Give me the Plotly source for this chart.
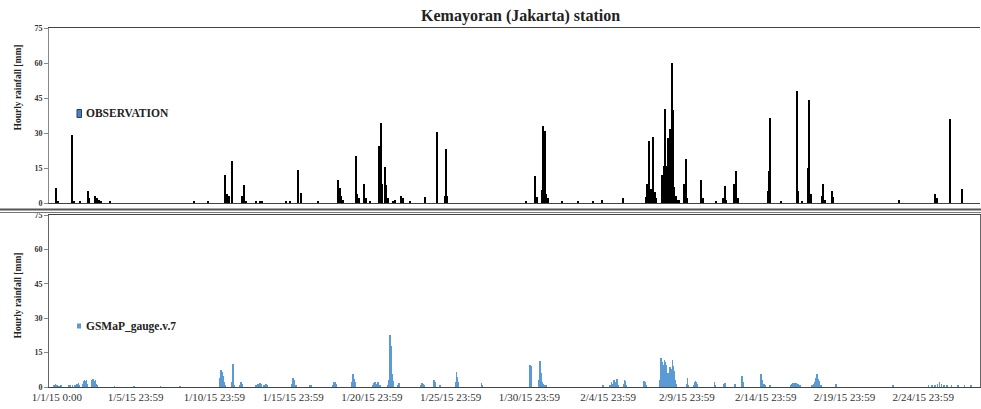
import numpy as np
import plotly.graph_objects as go

# ---------------- data ----------------
N_HOURS = 1419  # 1 Jan 2015 00:00 .. end of Feb 2015 (hourly index)

tick_hours = [12 + 120 * k for k in range(12)]
tick_labels = ["1/1/15 0:00", "1/5/15 23:59", "1/10/15 23:59", "1/15/15 23:59",
               "1/20/15 23:59", "1/25/15 23:59", "1/30/15 23:59", "2/4/15 23:59",
               "2/9/15 23:59", "2/14/15 23:59", "2/19/15 23:59", "2/24/15 23:59"]

# Observation (rain gauge) hourly rainfall [mm] - non-zero hours
obs_hours = [11, 14, 35, 38, 47, 59, 62, 71, 73, 76, 79, 93, 222, 242,
             269, 271, 272, 274, 279, 294, 298, 300, 315, 322, 325, 361, 367,
             380, 384, 410, 440, 443, 445, 448, 468, 470, 472, 480, 483, 489,
             503, 505, 506, 508, 512, 514, 517, 524, 527, 536, 539, 550, 574,
             592, 603, 605, 607, 727, 741, 744, 752, 753, 756, 758, 760, 782,
             806, 830, 843, 875, 910, 912, 915, 918, 920, 923, 926, 934, 936,
             937, 939, 941, 943, 945, 946, 948, 950, 951, 953, 955, 958, 961,
             968, 971, 973, 994, 997, 1016, 1027, 1030, 1032, 1044, 1047, 1050,
             1096, 1097, 1099, 1115, 1140, 1142, 1147, 1157, 1159, 1161, 1178,
             1180, 1182, 1193, 1195, 1296, 1350, 1353, 1373, 1391]
obs_values = [6.6, 1.0, 29.0, 0.5, 0.5, 5.1, 2.0, 3.0, 2.0, 1.5, 1.0, 0.5, 0.5, 0.5,
              11.9, 2.0, 3.9, 3.0, 18.2, 3.0, 7.9, 1.0, 1.0, 1.0, 0.8, 1.0, 0.8,
              14.0, 4.3, 1.0, 9.7, 6.6, 3.0, 1.5, 20.2, 4.0, 2.0, 8.3, 2.0, 1.0,
              24.3, 8.0, 34.4, 8.0, 15.4, 7.9, 2.0, 1.0, 1.5, 3.0, 2.0, 1.0, 2.5,
              30.4, 3.0, 23.1, 3.0, 1.0, 11.7, 2.5, 5.7, 33.2, 31.0, 4.0, 2.0, 1.0,
              1.0, 1.0, 1.5, 2.0, 2.5, 8.0, 26.4, 6.0, 28.3, 4.6, 2.0, 11.9, 9.7,
              16.0, 40.4, 16.0, 28.0, 18.0, 31.9, 20.0, 60.2, 40.0, 7.0, 3.0, 1.5, 1.5,
              8.0, 19.0, 2.0, 9.7, 2.0, 1.0, 2.0, 7.3, 1.5, 8.0, 13.7, 2.0,
              5.0, 13.7, 36.4, 0.8, 48.0, 5.0, 1.0, 15.0, 44.0, 4.0, 3.0,
              8.0, 1.5, 5.1, 2.5, 1.5, 4.0, 2.0, 36.0, 6.2]

# GSMaP_gauge v7 hourly rainfall [mm] - non-zero hours
gsmap_hours = [8, 9, 10, 11, 12, 15, 18,
               30, 33, 36, 40, 43, 45, 46,
               52, 53, 54, 55, 56, 57, 58,
               65, 66, 67, 68, 69, 70, 71, 72, 73,
               100, 130, 170, 200,
               260, 261, 262, 263, 264, 265, 266, 267, 268,
               279, 280, 281, 282,
               291, 292, 293, 294, 295,
               315, 318, 322, 324, 328, 331, 333,
               370, 371, 372, 373, 374, 376,
               398, 399,
               433, 434, 435, 436, 437, 438,
               462, 463, 464, 465, 466, 467,
               493, 495, 497, 499, 501, 503, 505,
               517, 518, 519, 520, 521, 522, 523, 524, 525,
               532, 533, 534,
               566, 568, 570, 572,
               586, 587, 588, 596,
               620, 621, 622, 623,
               659, 660,
               732, 733, 734, 735,
               747, 748, 749, 750, 751, 752, 753, 755, 757,
               844,
               855, 857, 859, 861, 863, 865, 866, 868,
               876, 877, 878, 879,
               906, 907, 908, 909, 910,
               931, 932, 933, 934, 935, 936, 937, 938, 939, 940, 941, 942, 943,
               944, 945, 946, 947, 948, 949, 950, 951, 952, 953, 954, 955,
               972, 973, 974,
               983, 984, 985, 986, 987, 988,
               1014, 1015, 1029, 1030, 1031, 1045,
               1055, 1056, 1057,
               1084, 1085, 1086, 1087, 1088, 1090, 1092, 1099,
               1130, 1132, 1134, 1136, 1138, 1140, 1142, 1144,
               1163, 1165, 1167, 1168, 1169, 1170, 1171, 1172, 1173, 1174, 1176,
               1199, 1286,
               1340, 1345, 1350, 1354, 1357, 1360, 1364, 1368, 1375, 1385, 1395, 1405]
gsmap_values = [0.6, 1.0, 1.2, 0.8, 0.5, 0.4, 0.5,
                0.5, 0.8, 1.0, 0.7, 1.2, 1.7, 1.0,
                1.5, 2.8, 3.0, 2.5, 2.2, 3.0, 1.5,
                1.0, 3.0, 3.7, 3.2, 2.0, 2.8, 3.0, 1.5, 0.8,
                0.2, 0.2, 0.2, 0.2,
                1.0, 4.0, 7.6, 7.2, 6.6, 5.0, 3.6, 2.0, 1.0,
                2.0, 10.2, 4.0, 1.0,
                1.0, 2.2, 2.0, 1.5, 0.8,
                0.8, 1.3, 1.9, 1.2, 0.8, 1.5, 1.0,
                1.5, 3.5, 4.0, 3.0, 1.5, 1.0,
                1.0, 0.8,
                1.0, 2.0, 2.2, 2.0, 1.5, 0.8,
                2.0, 5.8, 4.4, 3.6, 2.0, 1.0,
                1.0, 1.6, 2.2, 1.5, 2.0, 1.0, 0.8,
                1.0, 3.0, 7.0, 22.5, 18.0, 13.0, 5.8, 2.5, 1.0,
                1.0, 1.7, 1.5,
                1.0, 1.7, 1.5, 0.8,
                1.5, 3.2, 2.0, 1.0,
                2.0, 6.6, 4.5, 2.0,
                1.7, 0.8,
                2.0, 9.5, 9.0, 3.0,
                3.0, 11.3, 10.0, 6.0, 2.0, 1.5, 1.3, 1.0, 0.7,
                1.0,
                1.0, 2.0, 1.2, 3.0, 2.0, 3.6, 2.5, 1.0,
                1.5, 3.2, 2.5, 1.0,
                1.5, 2.5, 2.0, 1.8, 1.0,
                3.0, 8.6, 12.8, 11.0, 8.6, 7.0, 9.5, 11.9, 10.9, 9.5, 7.2, 6.0, 5.1,
                4.0, 6.0, 8.6, 7.0, 6.0, 8.0, 11.9, 9.0, 7.0, 5.0, 3.0, 1.5,
                1.5, 4.0, 1.0,
                1.0, 2.0, 2.5, 2.2, 1.5, 1.0,
                2.2, 0.8, 1.2, 1.7, 1.0, 1.3,
                1.0, 4.6, 2.0,
                2.0, 5.8, 3.0, 2.5, 1.5, 1.2, 1.0, 0.6,
                0.8, 1.5, 1.8, 1.7, 1.8, 1.5, 1.2, 0.8,
                1.0, 1.5, 2.0, 3.0, 4.0, 5.8, 4.5, 3.5, 2.5, 2.0, 1.0,
                1.3, 0.5,
                0.6, 0.8, 1.0, 1.3, 2.0, 1.2, 0.8, 0.6, 0.5, 0.6, 0.5, 0.6]

y_ticks = [0, 15, 30, 45, 60, 75]

# ---------------- build full hourly series ----------------
hours = np.arange(N_HOURS)
gsm = np.zeros(N_HOURS)
gsm[gsmap_hours] = gsmap_values

# ---------------- figure ----------------
W, H = 981, 409
ML, MR, MT, MB = 49, 1, 28, 22
PW, PH = W - ML - MR, H - MT - MB


def px(xp):
    return (xp - ML) / PW


def py(yp):
    return (H - MB - yp) / PH


SERIF = "Liberation Serif, Times New Roman, serif"
BLUE = "#5B9BD5"

fig = go.Figure()
fig.add_trace(go.Bar(x=obs_hours, y=obs_values, width=2.2, marker_color="black",
                     marker_line_width=0, name="OBSERVATION", xaxis="x", yaxis="y",
                     showlegend=False))
fig.add_trace(go.Bar(x=hours, y=gsm, width=1.0, marker_color=BLUE,
                     marker_line_width=0, name="GSMaP_gauge.v.7", xaxis="x2", yaxis="y2",
                     showlegend=False))

top_dom = [py(203), 1.0]
bot_dom = [0.0, py(215)]

fig.update_layout(
    template="none",
    width=W, height=H,
    margin=dict(l=ML, r=MR, t=MT, b=MB, autoexpand=False),
    paper_bgcolor="white", plot_bgcolor="white",
    bargap=0,
    font=dict(family=SERIF, color="black"),
    xaxis=dict(domain=[0, 1], range=[0, 1418.6], anchor="y", automargin=False,
               showticklabels=False, showgrid=False, zeroline=False,
               showline=True, linecolor="#444", linewidth=1.3, mirror=True, ticks=""),
    yaxis=dict(domain=top_dom, range=[0, 75], tickvals=y_ticks, anchor="x",
               automargin=False,
               showgrid=False, zeroline=False, showline=True, linecolor="#888",
               linewidth=1, ticks="outside", ticklen=4, tickcolor="#888",
               tickfont=dict(family=SERIF, size=8, color="#333", weight="bold")),
    xaxis2=dict(domain=[0, 1], range=[0, 1418.6], anchor="y2", automargin=False,
                tickvals=tick_hours, ticktext=tick_labels, ticks="",
                tickfont=dict(family=SERIF, size=11, color="#333"),
                showgrid=False, zeroline=False, showline=True, linecolor="#444",
                linewidth=1.3, mirror=True),
    yaxis2=dict(domain=bot_dom, range=[0, 75], tickvals=y_ticks, anchor="x2",
                automargin=False,
                showgrid=False, zeroline=False, showline=True, linecolor="#666",
                linewidth=1, mirror=True, ticks="outside", ticklen=4, tickcolor="#888",
                tickfont=dict(family=SERIF, size=8, color="#333", weight="bold")),
)

common = dict(xref="paper", yref="paper", showarrow=False, yanchor="middle")
annotations = [
    dict(text="<b>Kemayoran (Jakarta) station</b>", x=px(520), y=py(16), xanchor="center",
         font=dict(family=SERIF, size=16, color="#222"), **common),
    dict(text="<b>Hourly rainfall [mm]</b>", x=px(17.5), y=py(88), textangle=-90,
         xanchor="center", font=dict(family=SERIF, size=9.5, color="#222"), **common),
    dict(text="<b>Hourly rainfall [mm]</b>", x=px(17.5), y=py(296), textangle=-90,
         xanchor="center", font=dict(family=SERIF, size=9.5, color="#222"), **common),
    dict(text="<b>OBSERVATION</b>", x=px(84), y=py(113.5), xanchor="left",
         font=dict(family=SERIF, size=11.5, color="#222"), **common),
    dict(text="<b>GSMaP_gauge.v.7</b>", x=px(84), y=py(326), xanchor="left",
         font=dict(family=SERIF, size=11.5, color="#222"), **common),
]
fig.update_layout(annotations=annotations)

shapes = [
    # legend swatches
    dict(type="rect", xref="paper", yref="paper", x0=px(77), x1=px(81.5),
         y0=py(117.5), y1=py(109.5), fillcolor="#4F81BD",
         line=dict(color="#1F3F6F", width=1)),
    dict(type="rect", xref="paper", yref="paper", x0=px(77), x1=px(81),
         y0=py(328.5), y1=py(323.5), fillcolor=BLUE, line=dict(width=0)),
    # separator between the two panels
    dict(type="line", xref="paper", yref="paper", x0=px(0), x1=px(981),
         y0=py(209.5), y1=py(209.5), line=dict(color="#555", width=2)),
    dict(type="line", xref="paper", yref="paper", x0=px(0), x1=px(981),
         y0=py(212.5), y1=py(212.5), line=dict(color="#777", width=1.2)),
]
fig.update_layout(shapes=shapes)

fig.write_html("out.html",
               config={"displayModeBar": False},
               post_script="document.body.style.margin='0';document.body.style.padding='0';"
                           "document.body.style.overflow='hidden';")
